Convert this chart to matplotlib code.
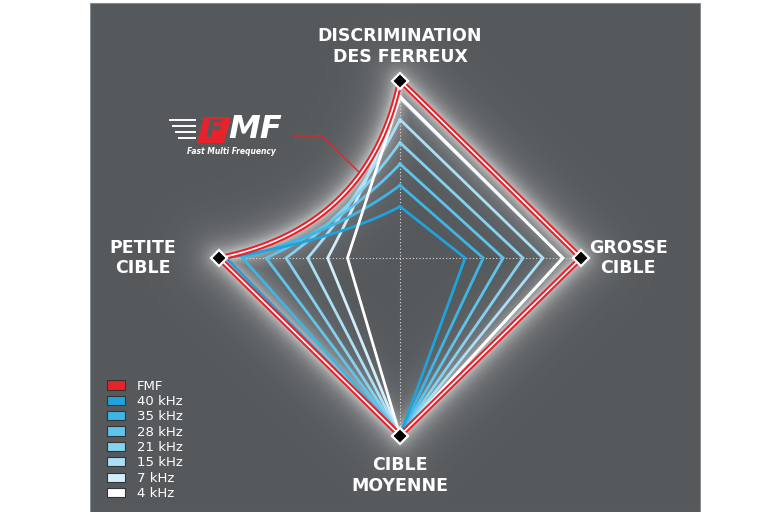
import numpy as np
import matplotlib
matplotlib.use('Agg')
import matplotlib.pyplot as plt
from matplotlib.patches import Rectangle, Patch, Polygon

# --- data: normalised score on each axis (1 = outer vertex) ---
axes_labels = ['DISCRIMINATION\nDES FERREUX', 'GROSSE\nCIBLE', 'CIBLE\nMOYENNE', 'PETITE\nCIBLE']
series = ['FMF', '40 kHz', '35 kHz', '28 kHz', '21 kHz', '15 kHz', '7 kHz', '4 kHz']
top_vals = [1.00, 0.29, 0.41, 0.53, 0.65, 0.78, 0.90, 0.91]     # discrimination
right_vals = [1.00, 0.36, 0.46, 0.57, 0.68, 0.79, 0.90, 0.90]   # grosse cible
bottom_vals = [1.00, 1.00, 1.00, 1.00, 1.00, 1.00, 1.00, 1.00]  # cible moyenne
left_vals = [1.00, 0.96, 0.87, 0.74, 0.63, 0.51, 0.40, 0.29]    # petite cible
colors = ['#e8222b', '#1ea3dc', '#3db5e5', '#5ec4eb', '#84d2f0', '#aadff5', '#d2eefa', '#ffffff']
# how far the top->left edge bows towards the centre (0.5 = straight)
bow = [0.17, 0.36, 0.38, 0.40, 0.42, 0.44, 0.46, 0.5]

W, H = 768, 512
CX, CY = 400, 254       # centre in pixels from bottom-left
SX, SY = 181, 177.5     # pixel length of a unit radius

fig = plt.figure(figsize=(W / 100, H / 100), dpi=100)
fig.patch.set_facecolor('white')
ax = fig.add_axes([0, 0, 1, 1])
x0, x1 = -CX / SX, (W - CX) / SX
y0, y1 = -CY / SY, (H - CY) / SY
ax.set_xlim(x0, x1)
ax.set_ylim(y0, y1)
ax.axis('off')

# grey panel
ax.add_patch(Rectangle((90, 0), 610, 509, transform=None, facecolor='#56595c',
                       edgecolor='#8a8d90', lw=0.8, zorder=0))


def shape(i, n=60):
    t, r, b, l = top_vals[i], right_vals[i], bottom_vals[i], left_vals[i]
    xs = [0, r, 0, -l]
    ys = [t, 0, -b, 0]
    # top-left edge drawn as a quadratic curve
    s = np.linspace(0, 1, n)
    c = bow[i]
    p0 = np.array([-l, 0.0]); p2 = np.array([0.0, t]); p1 = np.array([-c * l, c * t])
    bx = (1 - s) ** 2 * p0[0] + 2 * (1 - s) * s * p1[0] + s ** 2 * p2[0]
    by = (1 - s) ** 2 * p0[1] + 2 * (1 - s) * s * p1[1] + s ** 2 * p2[1]
    return np.concatenate([xs, bx]), np.concatenate([ys, by])


# soft white glow around the FMF outline (distance field in pixels)
gx, gy = shape(0)
px, py = gx * SX, gy * SY
xx, yy = np.meshgrid(np.linspace(x0 * SX, x1 * SX, W), np.linspace(y0 * SY, y1 * SY, H))
dist = np.full(xx.shape, 1e9)
for k in range(len(px) - 1):
    ax_, ay_, bx_, by_ = px[k], py[k], px[k + 1], py[k + 1]
    dx, dy = bx_ - ax_, by_ - ay_
    L2 = dx * dx + dy * dy
    if L2 == 0:
        continue
    u = np.clip(((xx - ax_) * dx + (yy - ay_) * dy) / L2, 0, 1)
    d = np.hypot(xx - ax_ - u * dx, yy - ay_ - u * dy)
    dist = np.minimum(dist, d)
glow = np.zeros(xx.shape + (4,))
glow[..., :3] = 1.0
glow[..., 3] = 0.55 * np.exp(-dist / 8.0) + 0.25 * np.exp(-dist / 22.0)
ax.imshow(glow, extent=(x0, x1, y0, y1), origin='lower', aspect='auto', zorder=1,
          interpolation='bilinear')
ax.add_patch(Rectangle((0, 0), 90, H, transform=None, facecolor='white', edgecolor='none', zorder=1.5))
ax.add_patch(Rectangle((700.5, 0), 70, H, transform=None, facecolor='white', edgecolor='none', zorder=1.5))

# dotted cross-hair
ax.plot([0, 0], [-1, 1], ls=(0, (1, 2)), color='#dddddd', lw=0.8, zorder=2)
ax.plot([-1, 1], [0, 0], ls=(0, (1, 2)), color='#dddddd', lw=0.8, zorder=2)

# frequency lines, FMF on top
for i in range(len(series) - 1, 0, -1):
    x, y = shape(i)
    ax.plot(x, y, color=colors[i], lw=2.0, solid_joinstyle='miter', zorder=3 + (i == 7))
ax.plot(gx, gy, color=colors[0], lw=4.2, solid_joinstyle='miter', zorder=5)
ax.plot(gx, gy, color='white', lw=1.2, solid_joinstyle='miter', zorder=6)

# vertex markers
ax.plot([0, 1, 0, -1], [1, 0, -1, 0], ls='none', marker='D', ms=8.5, mfc='black',
        mec='white', mew=1.6, zorder=7)

# axis labels
lab_kw = dict(color='white', fontsize=12.5, fontweight='bold', ha='center', va='center',
              linespacing=1.2, family='DejaVu Sans')
ax.text(0, 1.193, axes_labels[0], **lab_kw)
ax.text(1.26, 0.0, axes_labels[1], **lab_kw)
ax.text(0, -1.225, axes_labels[2], **lab_kw)
ax.text(-1.42, 0.0, axes_labels[3], **lab_kw)

# FMF logo and pointer
ax.plot([293, 322, 360], [376, 376, 339], color='#e8222b', lw=1.0, transform=None, zorder=4)
for yy_, xs_ in zip([392, 386, 380, 374], [170, 173, 176, 179]):
    ax.plot([xs_, 195], [yy_, yy_], color='white', lw=1.4, transform=None, zorder=4)
ax.add_patch(Polygon([[197, 369], [224, 369], [231, 395], [204, 395]], closed=True,
                     transform=None, facecolor='#e8222b', edgecolor='none', zorder=4))
fig.text(214 / W, 382 / H, 'F', color='#56595c', fontsize=18, fontweight='bold',
         style='italic', ha='center', va='center')
fig.text(228 / W, 382 / H, 'MF', color='white', fontsize=23, fontweight='bold',
         style='italic', ha='left', va='center')
fig.text(187 / W, 360 / H, 'Fast Multi Frequency', color='white', fontsize=5.5,
         fontweight='bold', style='italic', ha='left', va='center')

# legend
handles = [Patch(facecolor=c, edgecolor='#333333', lw=0.8) for c in colors]
leg = fig.legend(handles, series, loc='upper left', bbox_to_anchor=(100 / W, 1 - 373 / H),
                 frameon=False, fontsize=9.5, labelcolor='white', handlelength=1.4,
                 handleheight=0.7, labelspacing=0.18, handletextpad=0.9, borderpad=0)

fig.savefig('out.png', dpi=100, facecolor='white')
